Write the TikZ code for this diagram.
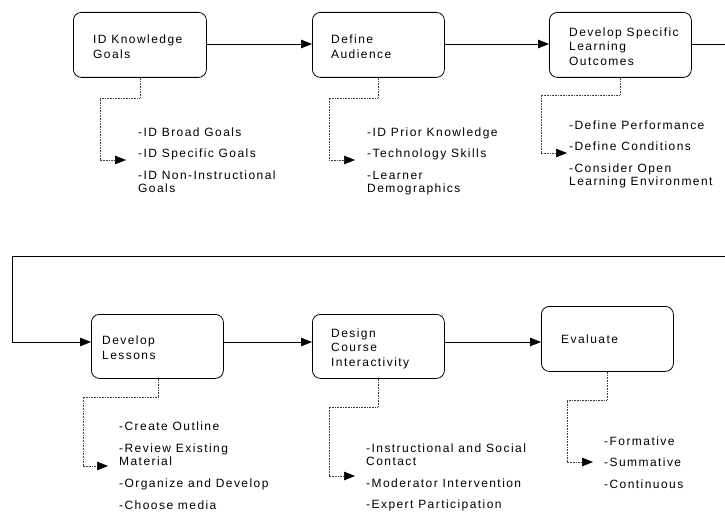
\documentclass[tikz,border=0pt]{standalone}
\usepackage{fontspec}
\setmainfont{Liberation Sans}[LetterSpace=12]
\usetikzlibrary{arrows.meta}
\begin{document}
\begin{tikzpicture}[x=1pt,y=-1pt,
  box/.style={draw=black, line width=0.8pt, rounded corners=8pt, inner sep=0pt, anchor=north west},
  boxtext/.style={anchor=west, align=left, inner sep=0pt, font=\fontsize{12}{14.5}\selectfont},
  list/.style={anchor=north west, align=left, inner sep=0pt, font=\fontsize{12}{13.5}\selectfont},
  tip/.style={-{Triangle[length=11pt,width=8.5pt,black]}},
  flow/.style={line width=0.8pt, tip},
  plain/.style={line width=0.8pt},
  sub/.style={line width=0.7pt, black!75, dash pattern=on 0.8pt off 0.8pt, tip}
]
\useasboundingbox (0,0) rectangle (725,513);

% boxes
\node[box, minimum width=133pt, minimum height=65pt] (b1) at (73,12) {};
\node[box, minimum width=132pt, minimum height=65pt] (b2) at (312,12) {};
\node[box, minimum width=142pt, minimum height=65pt] (b3) at (549,12) {};
\node[box, minimum width=132pt, minimum height=64pt] (b4) at (91,314) {};
\node[box, minimum width=132pt, minimum height=64pt] (b5) at (312,314) {};
\node[box, minimum width=132pt, minimum height=65pt] (b6) at (541,306) {};

% box texts
\node[boxtext] (t1) at ([xshift=20pt,yshift=-2pt]b1.west) {ID Knowledge\\Goals};
\node[boxtext] (t2) at ([xshift=19pt,yshift=-2pt]b2.west) {Define\\Audience};
\node[boxtext] (t3) at ([xshift=20pt,yshift=-1.5pt]b3.west) {Develop Specific\\Learning\\Outcomes};
\node[boxtext] (t4) at ([xshift=11pt,yshift=-1.5pt]b4.west) {Develop\\Lessons};
\node[boxtext] (t5) at ([xshift=19pt,yshift=-2pt]b5.west) {Design\\Course\\Interactivity};
\node[boxtext] (t6) at ([xshift=20pt,yshift=0pt]b6.west) {Evaluate};

% lists
\node[list] (l1) at (138,127.5) {-ID Broad Goals\\[8pt]-ID Specific Goals\\[8pt]-ID Non-Instructional\\Goals};
\node[list] (l2) at (367,127.5) {-ID Prior Knowledge\\[8pt]-Technology Skills\\[8pt]-Learner\\Demographics};
\node[list] (l3) at (569,120.5) {-Define Performance\\[8pt]-Define Conditions\\[8pt]-Consider Open\\Learning Environment};
\node[list] (l4) at (119,422) {-Create Outline\\[8pt]-Review Existing\\Material\\[8.5pt]-Organize and Develop\\[8pt]-Choose media};
\node[list] (l5) at (366,443.5) {-Instructional and Social\\Contact\\[8pt]-Moderator Intervention\\[8pt]-Expert Participation};
\node[list] (l6) at (604,436.5) {-Formative\\[8pt]-Summative\\[8pt]-Continuous};

% reference coordinates
\coordinate (n) at (0,44);
\coordinate (m) at (0,342);
\coordinate (r1) at (725,44);
\coordinate (r2) at (725,256);
\coordinate (lft) at (12,256);

% main flow
\draw[flow] (b1.east |- n) -- (b2.west |- n);
\draw[flow] (b2.east |- n) -- (b3.west |- n);
\draw[plain] (b3.east |- n) -- (r1);
\draw[flow] (r2) -- (lft) |- (b4.west |- m);
\draw[flow] (b4.east |- m) -- (b5.west |- m);
\draw[flow] (b5.east |- m) -- (b6.west |- m);

% dotted sub connectors
\coordinate (d1) at (140,0);  \coordinate (e1) at (100,98);  \coordinate (a1) at (126,160);
\coordinate (d2) at (378,0);  \coordinate (e2) at (329,98);  \coordinate (a2) at (355,160);
\coordinate (d3) at (620,0);  \coordinate (e3) at (541,95);  \coordinate (a3) at (567,153);
\coordinate (d4) at (158,0);  \coordinate (e4) at (83,397);  \coordinate (a4) at (108,466);
\coordinate (d5) at (378,0);  \coordinate (e5) at (329,407); \coordinate (a5) at (355,476);
\coordinate (d6) at (607,0);  \coordinate (e6) at (567,400); \coordinate (a6) at (593,462);

\draw[sub] (b1.south -| d1) |- (e1) |- (a1);
\draw[sub] (b2.south -| d2) |- (e2) |- (a2);
\draw[sub] (b3.south -| d3) |- (e3) |- (a3);
\draw[sub] (b4.south -| d4) |- (e4) |- (a4);
\draw[sub] (b5.south -| d5) |- (e5) |- (a5);
\draw[sub] (b6.south -| d6) |- (e6) |- (a6);
\end{tikzpicture}
\end{document}
